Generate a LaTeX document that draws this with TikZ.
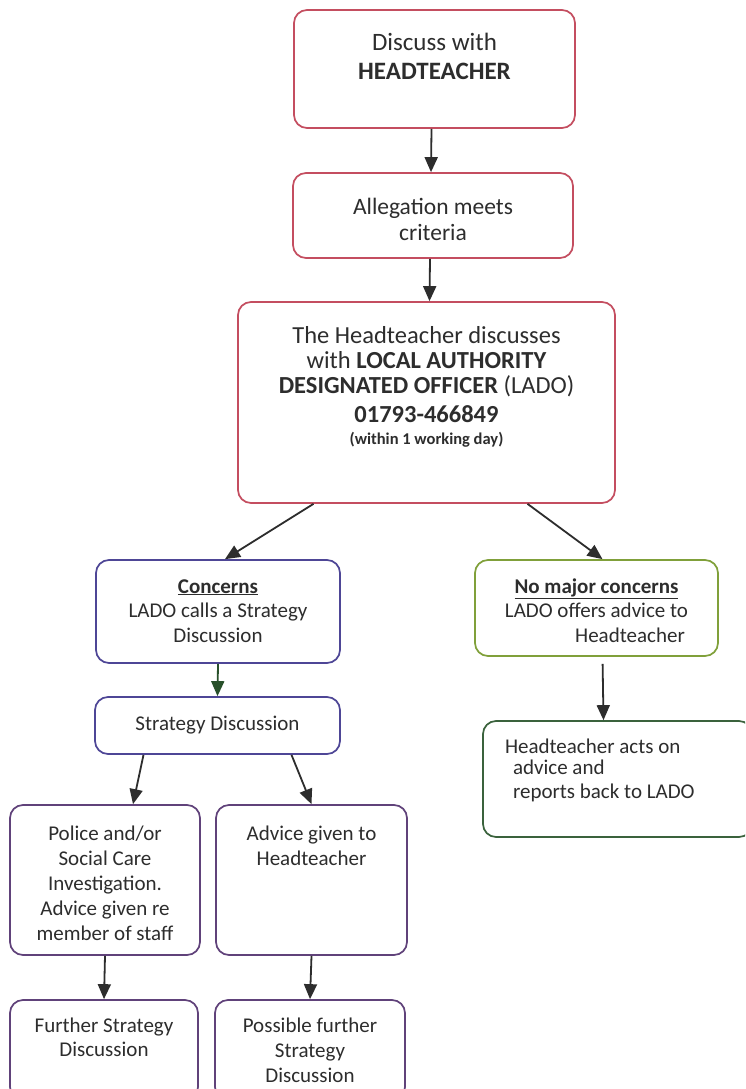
\documentclass[tikz,border=0pt]{standalone}
\usepackage{fontspec}
\setmainfont{Carlito}
\usepackage{xcolor}
\usepackage{tikz}
\usetikzlibrary{shapes,arrows.meta}
\definecolor{boxred}{RGB}{196,78,96}
\definecolor{boxblue}{RGB}{78,70,150}
\definecolor{boxpurple}{RGB}{96,66,122}
\definecolor{boxolive}{RGB}{128,160,58}
\definecolor{boxgreen}{RGB}{58,98,60}
\definecolor{arrgray}{RGB}{45,45,45}
\definecolor{arrgreen}{RGB}{40,80,42}
\definecolor{txtgray}{RGB}{45,45,45}
\tikzset{blk/.style={draw,rounded corners=13pt,line width=1.7pt,inner sep=0pt,text=txtgray,fill=white},
  arr/.style={->,line width=1.8pt,draw=arrgray}}
\newcommand{\boxtext}[4]{\parbox[c][#2pt][t]{#1pt}{\centering\rule{0pt}{#3pt}#4}}

\begin{document}
\begin{tikzpicture}[>={Triangle[length=15pt,width=13pt]},x=1pt,y=-1pt]
        \useasboundingbox[fill=white] (0,0) rectangle (745,1089);
        \clip (0,0) rectangle (745,1089);

        \node[blk,draw=boxred,font=\fontsize{25}{29}\selectfont] (headt) at (434.5,69)
            {\boxtext{281}{118}{41}{Discuss with\\\textbf{HEADTEACHER}}};
        \node[blk,draw=boxred,font=\fontsize{23.5}{26}\selectfont] (crit) at (433,215.5)
            {\boxtext{280}{85}{41}{Allegation meets\\criteria}};
        \node[blk,draw=boxred,font=\fontsize{24.5}{25}\selectfont] (lado) at (426.5,402.5)
            {\boxtext{377}{201}{41}{The Headteacher discusses\\with \textbf{LOCAL AUTHORITY}\\\textbf{DESIGNATED OFFICER} (LADO)\\[4pt]\textbf{01793-466849}\\[-3pt]{\fontsize{16.5}{19}\selectfont\textbf{(within 1 working day)}}}};
        \node[blk,draw=boxblue,font=\fontsize{21}{24.5}\selectfont] (conc) at (218,611.5)
            {\boxtext{244}{103}{33}{\textbf{\underline{Concerns}}\\LADO calls a Strategy\\Discussion}};
        \node[blk,draw=boxolive,font=\fontsize{21}{24.5}\selectfont] (nomaj) at (596.5,608)
            {\boxtext{243}{96}{33}{\textbf{\underline{No major concerns}}\\LADO offers advice to\\\hspace*{67pt}Headteacher}};
        \node[blk,draw=boxblue,font=\fontsize{21}{24.5}\selectfont] (strat) at (217.5,725.5)
            {\boxtext{245}{57}{33}{Strategy Discussion}};
        \node[blk,draw=boxgreen,font=\fontsize{21}{24}\selectfont] (acts) at (617.5,779)
            {\boxtext{269}{116}{32}{\raggedright\hspace*{22pt}Headteacher acts on\\[-3pt]\hspace*{30pt}advice and\\\hspace*{30pt}reports back to LADO}};
        \node[blk,draw=boxpurple,font=\fontsize{21}{25}\selectfont] (police) at (105,880)
            {\boxtext{190}{150}{35}{Police and/or\\Social Care\\Investigation.\\Advice given re\\member of staff}};
        \node[blk,draw=boxpurple,font=\fontsize{21}{25}\selectfont] (advice) at (311.5,880)
            {\boxtext{191}{150}{35}{Advice given to\\Headteacher}};
        \node[blk,draw=boxpurple,font=\fontsize{21}{24}\selectfont] (further) at (104,1050)
            {\boxtext{188}{100}{32}{Further Strategy\\Discussion}};
        \node[blk,draw=boxpurple,font=\fontsize{21}{25}\selectfont] (possible) at (310,1050)
            {\boxtext{190}{100}{32}{Possible further\\Strategy\\Discussion}};

        \draw [arr] ([xshift=-3pt]headt.south) to [] ([xshift=-2pt]crit.north);
        \draw [arr] ([xshift=-3pt]crit.south) to [] ([xshift=3pt]lado.north);
        \draw [arr] ([xshift=-113pt]lado.south) to [] ([xshift=7pt]conc.north);
        \draw [arr] ([xshift=101pt]lado.south) to [] ([xshift=6pt]nomaj.north);
        \draw [arr,draw=arrgreen] (conc.south) to [] (strat.north);
        \draw [arr,shorten <=7pt] ([xshift=6pt]nomaj.south) to [] ([xshift=-14pt]acts.north);
        \draw [arr] ([xshift=-74pt]strat.south) to [] ([xshift=28pt]police.north);
        \draw [arr] ([xshift=74pt]strat.south) to [] (advice.north);
        \draw [arr] (police.south) to [] (further.north);
        \draw [arr] (advice.south) to [] (possible.north);

    \end{tikzpicture}
\end{document}
